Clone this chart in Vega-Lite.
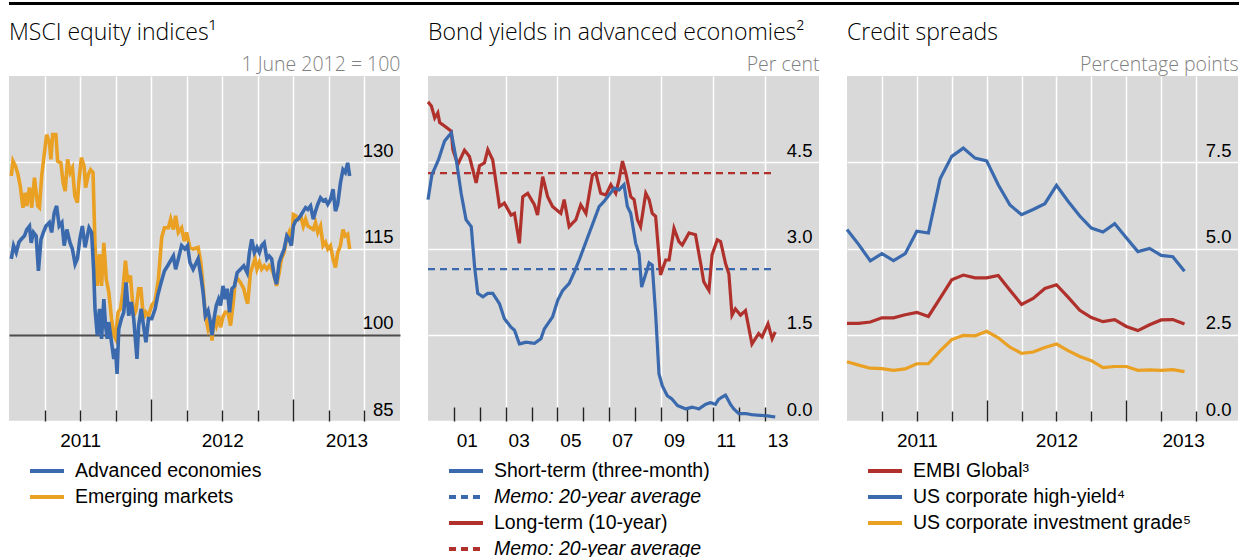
{
  "$schema": "https://vega.github.io/schema/vega-lite/v6.json",
  "padding": {"left": 4, "top": 0, "right": 0, "bottom": 0},
  "config": {
    "font": "Liberation Sans",
    "view": {"stroke": null},
    "title": {"font": "Open Sans", "fontSize": 23, "fontWeight": 300, "color": "black", "anchor": "start", "frame": "group", "baseline": "alphabetic", "offset": 9},
    "axis": {"labelFont": "Liberation Sans", "labelColor": "black", "titleFont": "Open Sans", "titleFontSize": 19.5, "titleFontWeight": 300, "titleColor": "#7f7f7f"},
    "legend": {"orient": "none", "legendX": 26, "legendY": 383, "direction": "vertical", "title": null, "symbolType": "M-1.7,0H1.7", "symbolSize": 400, "symbolStrokeWidth": 4, "labelFont": "Liberation Sans", "labelFontSize": 19.5, "labelColor": "black", "labelOffset": 16, "rowPadding": 4, "labelLimit": 400}
  },
  "datasets": {
    "equity": [
      {"t":2011.016,"s":"E","v":127.6},{"t":2011.028,"s":"E","v":130.2},{"t":2011.046,"s":"E","v":129.3},{"t":2011.063,"s":"E","v":127.9},{"t":2011.079,"s":"E","v":125.9},{"t":2011.098,"s":"E","v":122.1},{"t":2011.114,"s":"E","v":124.7},{"t":2011.125,"s":"E","v":122.4},{"t":2011.144,"s":"E","v":125.6},{"t":2011.160,"s":"E","v":122.1},{"t":2011.179,"s":"E","v":127.3},{"t":2011.202,"s":"E","v":122.4},{"t":2011.214,"s":"E","v":122.1},{"t":2011.230,"s":"E","v":127.6},{"t":2011.249,"s":"E","v":131.6},{"t":2011.265,"s":"E","v":134.8},{"t":2011.284,"s":"E","v":133.4},{"t":2011.295,"s":"E","v":130.5},{"t":2011.307,"s":"E","v":134.8},{"t":2011.330,"s":"E","v":134.8},{"t":2011.342,"s":"E","v":130.2},{"t":2011.365,"s":"E","v":129.9},{"t":2011.381,"s":"E","v":126.4},{"t":2011.395,"s":"E","v":125.0},{"t":2011.412,"s":"E","v":130.5},{"t":2011.430,"s":"E","v":128.2},{"t":2011.446,"s":"E","v":129.0},{"t":2011.463,"s":"E","v":124.1},{"t":2011.481,"s":"E","v":123.0},{"t":2011.493,"s":"E","v":127.0},{"t":2011.509,"s":"E","v":130.8},{"t":2011.528,"s":"E","v":129.3},{"t":2011.539,"s":"E","v":125.6},{"t":2011.558,"s":"E","v":127.9},{"t":2011.574,"s":"E","v":128.7},{"t":2011.591,"s":"E","v":128.2},{"t":2011.605,"s":"E","v":115.5},{"t":2011.621,"s":"E","v":108.5},{"t":2011.637,"s":"E","v":114.0},{"t":2011.651,"s":"E","v":108.5},{"t":2011.667,"s":"E","v":116.0},{"t":2011.684,"s":"E","v":109.7},{"t":2011.702,"s":"E","v":107.4},{"t":2011.721,"s":"E","v":102.8},{"t":2011.737,"s":"E","v":99.9},{"t":2011.749,"s":"E","v":99.3},{"t":2011.767,"s":"E","v":103.9},{"t":2011.784,"s":"E","v":104.5},{"t":2011.800,"s":"E","v":107.4},{"t":2011.819,"s":"E","v":112.9},{"t":2011.835,"s":"E","v":109.1},{"t":2011.854,"s":"E","v":110.3},{"t":2011.877,"s":"E","v":103.3},{"t":2011.893,"s":"E","v":104.2},{"t":2011.912,"s":"E","v":108.0},{"t":2011.928,"s":"E","v":108.0},{"t":2011.946,"s":"E","v":102.8},{"t":2011.963,"s":"E","v":103.9},{"t":2011.981,"s":"E","v":103.3},{"t":2012.004,"s":"E","v":105.1},{"t":2012.028,"s":"E","v":105.9},{"t":2012.051,"s":"E","v":109.7},{"t":2012.074,"s":"E","v":116.9},{"t":2012.093,"s":"E","v":118.6},{"t":2012.121,"s":"E","v":118.6},{"t":2012.137,"s":"E","v":120.1},{"t":2012.156,"s":"E","v":118.3},{"t":2012.172,"s":"E","v":120.7},{"t":2012.191,"s":"E","v":117.8},{"t":2012.214,"s":"E","v":118.6},{"t":2012.233,"s":"E","v":116.3},{"t":2012.249,"s":"E","v":117.8},{"t":2012.272,"s":"E","v":115.2},{"t":2012.295,"s":"E","v":114.9},{"t":2012.330,"s":"E","v":115.2},{"t":2012.349,"s":"E","v":112.6},{"t":2012.365,"s":"E","v":108.5},{"t":2012.381,"s":"E","v":103.3},{"t":2012.400,"s":"E","v":101.0},{"t":2012.416,"s":"E","v":102.2},{"t":2012.428,"s":"E","v":99.0},{"t":2012.442,"s":"E","v":102.8},{"t":2012.458,"s":"E","v":101.6},{"t":2012.474,"s":"E","v":103.3},{"t":2012.488,"s":"E","v":101.3},{"t":2012.505,"s":"E","v":103.1},{"t":2012.521,"s":"E","v":103.9},{"t":2012.540,"s":"E","v":103.9},{"t":2012.558,"s":"E","v":101.6},{"t":2012.575,"s":"E","v":105.1},{"t":2012.591,"s":"E","v":109.1},{"t":2012.609,"s":"E","v":109.7},{"t":2012.628,"s":"E","v":109.1},{"t":2012.651,"s":"E","v":108.0},{"t":2012.668,"s":"E","v":106.2},{"t":2012.679,"s":"E","v":105.4},{"t":2012.698,"s":"E","v":110.8},{"t":2012.714,"s":"E","v":112.0},{"t":2012.730,"s":"E","v":113.2},{"t":2012.744,"s":"E","v":111.4},{"t":2012.761,"s":"E","v":112.6},{"t":2012.777,"s":"E","v":111.4},{"t":2012.795,"s":"E","v":112.0},{"t":2012.814,"s":"E","v":111.4},{"t":2012.830,"s":"E","v":112.0},{"t":2012.847,"s":"E","v":111.4},{"t":2012.865,"s":"E","v":110.3},{"t":2012.882,"s":"E","v":108.5},{"t":2012.900,"s":"E","v":110.8},{"t":2012.916,"s":"E","v":113.2},{"t":2012.935,"s":"E","v":114.3},{"t":2012.954,"s":"E","v":116.9},{"t":2012.970,"s":"E","v":117.8},{"t":2012.986,"s":"E","v":115.5},{"t":2013.000,"s":"E","v":120.9},{"t":2013.016,"s":"E","v":120.7},{"t":2013.033,"s":"E","v":120.1},{"t":2013.051,"s":"E","v":120.7},{"t":2013.070,"s":"E","v":118.9},{"t":2013.086,"s":"E","v":120.1},{"t":2013.102,"s":"E","v":118.9},{"t":2013.121,"s":"E","v":118.6},{"t":2013.140,"s":"E","v":118.3},{"t":2013.156,"s":"E","v":119.5},{"t":2013.172,"s":"E","v":117.8},{"t":2013.191,"s":"E","v":118.9},{"t":2013.209,"s":"E","v":115.5},{"t":2013.226,"s":"E","v":116.1},{"t":2013.242,"s":"E","v":114.9},{"t":2013.261,"s":"E","v":115.5},{"t":2013.279,"s":"E","v":113.2},{"t":2013.296,"s":"E","v":111.7},{"t":2013.312,"s":"E","v":114.3},{"t":2013.331,"s":"E","v":115.5},{"t":2013.349,"s":"E","v":118.3},{"t":2013.365,"s":"E","v":117.2},{"t":2013.382,"s":"E","v":117.5},{"t":2013.396,"s":"E","v":114.9},
      {"t":2011.016,"s":"A","v":113.2},{"t":2011.032,"s":"A","v":115.5},{"t":2011.051,"s":"A","v":114.3},{"t":2011.070,"s":"A","v":116.1},{"t":2011.086,"s":"A","v":116.6},{"t":2011.109,"s":"A","v":117.2},{"t":2011.125,"s":"A","v":118.3},{"t":2011.144,"s":"A","v":118.9},{"t":2011.156,"s":"A","v":116.0},{"t":2011.172,"s":"A","v":117.8},{"t":2011.191,"s":"A","v":117.2},{"t":2011.207,"s":"A","v":111.1},{"t":2011.225,"s":"A","v":116.6},{"t":2011.242,"s":"A","v":117.8},{"t":2011.260,"s":"A","v":118.9},{"t":2011.284,"s":"A","v":119.5},{"t":2011.300,"s":"A","v":117.8},{"t":2011.318,"s":"A","v":121.2},{"t":2011.335,"s":"A","v":122.4},{"t":2011.353,"s":"A","v":118.9},{"t":2011.372,"s":"A","v":119.5},{"t":2011.388,"s":"A","v":115.5},{"t":2011.407,"s":"A","v":118.3},{"t":2011.428,"s":"A","v":116.1},{"t":2011.446,"s":"A","v":114.9},{"t":2011.465,"s":"A","v":112.3},{"t":2011.481,"s":"A","v":113.2},{"t":2011.498,"s":"A","v":116.6},{"t":2011.516,"s":"A","v":118.9},{"t":2011.535,"s":"A","v":115.2},{"t":2011.551,"s":"A","v":117.2},{"t":2011.563,"s":"A","v":118.6},{"t":2011.581,"s":"A","v":117.8},{"t":2011.595,"s":"A","v":111.4},{"t":2011.605,"s":"A","v":104.5},{"t":2011.621,"s":"A","v":99.9},{"t":2011.637,"s":"A","v":104.5},{"t":2011.651,"s":"A","v":99.3},{"t":2011.667,"s":"A","v":106.2},{"t":2011.679,"s":"A","v":101.6},{"t":2011.691,"s":"A","v":99.3},{"t":2011.702,"s":"A","v":102.2},{"t":2011.721,"s":"A","v":98.7},{"t":2011.737,"s":"A","v":95.8},{"t":2011.749,"s":"A","v":97.6},{"t":2011.760,"s":"A","v":93.2},{"t":2011.772,"s":"A","v":101.0},{"t":2011.791,"s":"A","v":102.8},{"t":2011.807,"s":"A","v":103.9},{"t":2011.823,"s":"A","v":109.1},{"t":2011.842,"s":"A","v":103.3},{"t":2011.860,"s":"A","v":105.7},{"t":2011.877,"s":"A","v":102.8},{"t":2011.900,"s":"A","v":95.8},{"t":2011.912,"s":"A","v":101.6},{"t":2011.930,"s":"A","v":104.5},{"t":2011.946,"s":"A","v":101.6},{"t":2011.963,"s":"A","v":98.7},{"t":2011.981,"s":"A","v":102.8},{"t":2012.004,"s":"A","v":102.8},{"t":2012.028,"s":"A","v":104.5},{"t":2012.046,"s":"A","v":106.8},{"t":2012.070,"s":"A","v":109.1},{"t":2012.093,"s":"A","v":111.1},{"t":2012.116,"s":"A","v":112.0},{"t":2012.137,"s":"A","v":112.9},{"t":2012.156,"s":"A","v":113.7},{"t":2012.172,"s":"A","v":111.4},{"t":2012.191,"s":"A","v":113.2},{"t":2012.214,"s":"A","v":115.5},{"t":2012.237,"s":"A","v":114.9},{"t":2012.256,"s":"A","v":115.5},{"t":2012.272,"s":"A","v":112.6},{"t":2012.295,"s":"A","v":111.4},{"t":2012.330,"s":"A","v":113.2},{"t":2012.349,"s":"A","v":110.3},{"t":2012.365,"s":"A","v":107.4},{"t":2012.381,"s":"A","v":103.3},{"t":2012.400,"s":"A","v":104.2},{"t":2012.416,"s":"A","v":102.2},{"t":2012.428,"s":"A","v":99.9},{"t":2012.442,"s":"A","v":102.8},{"t":2012.458,"s":"A","v":105.1},{"t":2012.474,"s":"A","v":106.2},{"t":2012.488,"s":"A","v":105.1},{"t":2012.505,"s":"A","v":108.5},{"t":2012.521,"s":"A","v":106.2},{"t":2012.535,"s":"A","v":108.0},{"t":2012.551,"s":"A","v":103.9},{"t":2012.568,"s":"A","v":108.0},{"t":2012.586,"s":"A","v":108.5},{"t":2012.605,"s":"A","v":110.8},{"t":2012.628,"s":"A","v":111.4},{"t":2012.651,"s":"A","v":112.0},{"t":2012.675,"s":"A","v":110.8},{"t":2012.691,"s":"A","v":114.3},{"t":2012.707,"s":"A","v":116.6},{"t":2012.726,"s":"A","v":114.3},{"t":2012.744,"s":"A","v":115.2},{"t":2012.761,"s":"A","v":114.3},{"t":2012.777,"s":"A","v":115.5},{"t":2012.795,"s":"A","v":116.0},{"t":2012.814,"s":"A","v":113.2},{"t":2012.830,"s":"A","v":113.7},{"t":2012.847,"s":"A","v":113.2},{"t":2012.865,"s":"A","v":110.3},{"t":2012.882,"s":"A","v":108.8},{"t":2012.900,"s":"A","v":112.6},{"t":2012.916,"s":"A","v":113.7},{"t":2012.935,"s":"A","v":114.9},{"t":2012.954,"s":"A","v":117.2},{"t":2012.970,"s":"A","v":116.6},{"t":2012.986,"s":"A","v":115.5},{"t":2013.000,"s":"A","v":118.9},{"t":2013.016,"s":"A","v":119.8},{"t":2013.033,"s":"A","v":120.1},{"t":2013.051,"s":"A","v":120.7},{"t":2013.070,"s":"A","v":121.5},{"t":2013.086,"s":"A","v":122.1},{"t":2013.102,"s":"A","v":121.8},{"t":2013.121,"s":"A","v":122.4},{"t":2013.140,"s":"A","v":120.1},{"t":2013.156,"s":"A","v":121.5},{"t":2013.172,"s":"A","v":122.7},{"t":2013.191,"s":"A","v":123.8},{"t":2013.209,"s":"A","v":123.3},{"t":2013.226,"s":"A","v":123.5},{"t":2013.242,"s":"A","v":122.7},{"t":2013.261,"s":"A","v":123.5},{"t":2013.279,"s":"A","v":125.3},{"t":2013.296,"s":"A","v":121.5},{"t":2013.312,"s":"A","v":122.7},{"t":2013.331,"s":"A","v":126.4},{"t":2013.349,"s":"A","v":128.7},{"t":2013.365,"s":"A","v":128.2},{"t":2013.382,"s":"A","v":129.9},{"t":2013.396,"s":"A","v":127.6}
    ],
    "bonds": [
      {"t":2000.0,"s":"ML","v":4.31},{"t":2013.41,"s":"ML","v":4.31},
      {"t":2000.0,"s":"MS","v":2.64},{"t":2013.41,"s":"MS","v":2.64},
      {"t":2000.00,"s":"L","v":5.55},{"t":2000.13,"s":"L","v":5.48},{"t":2000.26,"s":"L","v":5.27},{"t":2000.38,"s":"L","v":5.36},{"t":2000.45,"s":"L","v":5.19},{"t":2000.64,"s":"L","v":5.13},{"t":2000.90,"s":"L","v":5.04},{"t":2000.96,"s":"L","v":4.72},{"t":2001.15,"s":"L","v":4.46},{"t":2001.41,"s":"L","v":4.71},{"t":2001.60,"s":"L","v":4.60},{"t":2001.86,"s":"L","v":4.14},{"t":2001.99,"s":"L","v":4.44},{"t":2002.18,"s":"L","v":4.49},{"t":2002.31,"s":"L","v":4.72},{"t":2002.50,"s":"L","v":4.54},{"t":2002.76,"s":"L","v":3.73},{"t":2002.95,"s":"L","v":3.79},{"t":2003.21,"s":"L","v":3.58},{"t":2003.34,"s":"L","v":3.61},{"t":2003.53,"s":"L","v":3.09},{"t":2003.66,"s":"L","v":3.90},{"t":2003.85,"s":"L","v":3.96},{"t":2004.11,"s":"L","v":3.76},{"t":2004.23,"s":"L","v":3.58},{"t":2004.43,"s":"L","v":4.25},{"t":2004.62,"s":"L","v":3.90},{"t":2004.81,"s":"L","v":3.73},{"t":2005.13,"s":"L","v":3.61},{"t":2005.26,"s":"L","v":3.85},{"t":2005.45,"s":"L","v":3.38},{"t":2005.71,"s":"L","v":3.50},{"t":2005.90,"s":"L","v":3.76},{"t":2006.10,"s":"L","v":3.61},{"t":2006.35,"s":"L","v":4.28},{"t":2006.48,"s":"L","v":4.31},{"t":2006.67,"s":"L","v":3.96},{"t":2006.87,"s":"L","v":3.93},{"t":2007.06,"s":"L","v":4.11},{"t":2007.25,"s":"L","v":3.96},{"t":2007.38,"s":"L","v":4.20},{"t":2007.51,"s":"L","v":4.52},{"t":2007.64,"s":"L","v":4.31},{"t":2007.83,"s":"L","v":3.90},{"t":2007.96,"s":"L","v":3.85},{"t":2008.09,"s":"L","v":3.50},{"t":2008.21,"s":"L","v":3.38},{"t":2008.41,"s":"L","v":3.96},{"t":2008.54,"s":"L","v":3.85},{"t":2008.66,"s":"L","v":3.61},{"t":2008.79,"s":"L","v":3.56},{"t":2008.98,"s":"L","v":2.54},{"t":2009.18,"s":"L","v":2.80},{"t":2009.31,"s":"L","v":2.80},{"t":2009.50,"s":"L","v":3.35},{"t":2009.69,"s":"L","v":3.12},{"t":2009.82,"s":"L","v":3.06},{"t":2010.08,"s":"L","v":3.27},{"t":2010.33,"s":"L","v":3.24},{"t":2010.53,"s":"L","v":2.74},{"t":2010.65,"s":"L","v":2.42},{"t":2010.85,"s":"L","v":2.27},{"t":2010.97,"s":"L","v":2.89},{"t":2011.17,"s":"L","v":3.15},{"t":2011.30,"s":"L","v":3.12},{"t":2011.49,"s":"L","v":2.74},{"t":2011.62,"s":"L","v":2.56},{"t":2011.74,"s":"L","v":1.84},{"t":2011.87,"s":"L","v":1.95},{"t":2012.07,"s":"L","v":1.84},{"t":2012.26,"s":"L","v":1.92},{"t":2012.51,"s":"L","v":1.34},{"t":2012.77,"s":"L","v":1.52},{"t":2012.90,"s":"L","v":1.46},{"t":2013.13,"s":"L","v":1.69},{"t":2013.29,"s":"L","v":1.43},{"t":2013.41,"s":"L","v":1.55},
      {"t":2000.00,"s":"S","v":3.85},{"t":2000.15,"s":"S","v":4.28},{"t":2000.41,"s":"S","v":4.55},{"t":2000.64,"s":"S","v":4.87},{"t":2000.90,"s":"S","v":5.01},{"t":2001.09,"s":"S","v":4.55},{"t":2001.28,"s":"S","v":3.96},{"t":2001.47,"s":"S","v":3.50},{"t":2001.67,"s":"S","v":3.38},{"t":2001.80,"s":"S","v":2.68},{"t":2001.92,"s":"S","v":2.22},{"t":2002.12,"s":"S","v":2.16},{"t":2002.31,"s":"S","v":2.22},{"t":2002.50,"s":"S","v":2.22},{"t":2002.76,"s":"S","v":2.04},{"t":2002.95,"s":"S","v":1.78},{"t":2003.21,"s":"S","v":1.63},{"t":2003.34,"s":"S","v":1.58},{"t":2003.53,"s":"S","v":1.34},{"t":2003.79,"s":"S","v":1.37},{"t":2004.11,"s":"S","v":1.35},{"t":2004.36,"s":"S","v":1.43},{"t":2004.49,"s":"S","v":1.60},{"t":2004.81,"s":"S","v":1.81},{"t":2005.01,"s":"S","v":2.10},{"t":2005.20,"s":"S","v":2.27},{"t":2005.45,"s":"S","v":2.39},{"t":2005.65,"s":"S","v":2.59},{"t":2005.84,"s":"S","v":2.80},{"t":2006.03,"s":"S","v":3.03},{"t":2006.22,"s":"S","v":3.26},{"t":2006.42,"s":"S","v":3.50},{"t":2006.61,"s":"S","v":3.73},{"t":2006.80,"s":"S","v":3.82},{"t":2006.99,"s":"S","v":3.93},{"t":2007.19,"s":"S","v":4.05},{"t":2007.38,"s":"S","v":4.02},{"t":2007.57,"s":"S","v":4.11},{"t":2007.70,"s":"S","v":3.73},{"t":2007.83,"s":"S","v":3.61},{"t":2008.02,"s":"S","v":3.09},{"t":2008.15,"s":"S","v":2.91},{"t":2008.25,"s":"S","v":2.33},{"t":2008.41,"s":"S","v":2.56},{"t":2008.54,"s":"S","v":2.75},{"t":2008.66,"s":"S","v":2.71},{"t":2008.79,"s":"S","v":1.87},{"t":2008.92,"s":"S","v":0.82},{"t":2009.05,"s":"S","v":0.61},{"t":2009.24,"s":"S","v":0.44},{"t":2009.43,"s":"S","v":0.38},{"t":2009.63,"s":"S","v":0.27},{"t":2009.95,"s":"S","v":0.21},{"t":2010.20,"s":"S","v":0.24},{"t":2010.46,"s":"S","v":0.21},{"t":2010.72,"s":"S","v":0.29},{"t":2010.91,"s":"S","v":0.32},{"t":2011.10,"s":"S","v":0.29},{"t":2011.23,"s":"S","v":0.38},{"t":2011.49,"s":"S","v":0.45},{"t":2011.68,"s":"S","v":0.29},{"t":2011.81,"s":"S","v":0.21},{"t":2012.00,"s":"S","v":0.13},{"t":2012.26,"s":"S","v":0.13},{"t":2012.51,"s":"S","v":0.11},{"t":2012.77,"s":"S","v":0.10},{"t":2013.09,"s":"S","v":0.09},{"t":2013.41,"s":"S","v":0.07}
    ],
    "spreads": [
      {"t":2011.000,"s":"H","v":5.55},{"t":2011.083,"s":"H","v":5.12},{"t":2011.167,"s":"H","v":4.64},{"t":2011.250,"s":"H","v":4.85},{"t":2011.333,"s":"H","v":4.65},{"t":2011.417,"s":"H","v":4.85},{"t":2011.500,"s":"H","v":5.50},{"t":2011.583,"s":"H","v":5.45},{"t":2011.667,"s":"H","v":7.02},{"t":2011.750,"s":"H","v":7.67},{"t":2011.833,"s":"H","v":7.91},{"t":2011.917,"s":"H","v":7.62},{"t":2012.000,"s":"H","v":7.54},{"t":2012.083,"s":"H","v":6.85},{"t":2012.167,"s":"H","v":6.26},{"t":2012.250,"s":"H","v":5.98},{"t":2012.333,"s":"H","v":6.13},{"t":2012.417,"s":"H","v":6.30},{"t":2012.500,"s":"H","v":6.83},{"t":2012.583,"s":"H","v":6.37},{"t":2012.667,"s":"H","v":5.94},{"t":2012.750,"s":"H","v":5.59},{"t":2012.833,"s":"H","v":5.48},{"t":2012.917,"s":"H","v":5.72},{"t":2013.000,"s":"H","v":5.31},{"t":2013.083,"s":"H","v":4.91},{"t":2013.167,"s":"H","v":5.00},{"t":2013.250,"s":"H","v":4.80},{"t":2013.333,"s":"H","v":4.76},{"t":2013.417,"s":"H","v":4.34},
      {"t":2011.000,"s":"E","v":2.83},{"t":2011.083,"s":"E","v":2.83},{"t":2011.167,"s":"E","v":2.87},{"t":2011.250,"s":"E","v":2.99},{"t":2011.333,"s":"E","v":2.99},{"t":2011.417,"s":"E","v":3.08},{"t":2011.500,"s":"E","v":3.15},{"t":2011.583,"s":"E","v":3.03},{"t":2011.667,"s":"E","v":3.56},{"t":2011.750,"s":"E","v":4.09},{"t":2011.833,"s":"E","v":4.23},{"t":2011.917,"s":"E","v":4.15},{"t":2012.000,"s":"E","v":4.15},{"t":2012.083,"s":"E","v":4.22},{"t":2012.167,"s":"E","v":3.79},{"t":2012.250,"s":"E","v":3.38},{"t":2012.333,"s":"E","v":3.55},{"t":2012.417,"s":"E","v":3.84},{"t":2012.500,"s":"E","v":3.95},{"t":2012.583,"s":"E","v":3.59},{"t":2012.667,"s":"E","v":3.21},{"t":2012.750,"s":"E","v":3.00},{"t":2012.833,"s":"E","v":2.88},{"t":2012.917,"s":"E","v":2.94},{"t":2013.000,"s":"E","v":2.74},{"t":2013.083,"s":"E","v":2.62},{"t":2013.167,"s":"E","v":2.79},{"t":2013.250,"s":"E","v":2.93},{"t":2013.333,"s":"E","v":2.94},{"t":2013.417,"s":"E","v":2.81},
      {"t":2011.000,"s":"I","v":1.72},{"t":2011.083,"s":"I","v":1.62},{"t":2011.167,"s":"I","v":1.53},{"t":2011.250,"s":"I","v":1.52},{"t":2011.333,"s":"I","v":1.47},{"t":2011.417,"s":"I","v":1.51},{"t":2011.500,"s":"I","v":1.66},{"t":2011.583,"s":"I","v":1.66},{"t":2011.667,"s":"I","v":2.03},{"t":2011.750,"s":"I","v":2.36},{"t":2011.833,"s":"I","v":2.48},{"t":2011.917,"s":"I","v":2.47},{"t":2012.000,"s":"I","v":2.60},{"t":2012.083,"s":"I","v":2.41},{"t":2012.167,"s":"I","v":2.14},{"t":2012.250,"s":"I","v":1.96},{"t":2012.333,"s":"I","v":2.00},{"t":2012.417,"s":"I","v":2.13},{"t":2012.500,"s":"I","v":2.23},{"t":2012.583,"s":"I","v":2.04},{"t":2012.667,"s":"I","v":1.87},{"t":2012.750,"s":"I","v":1.75},{"t":2012.833,"s":"I","v":1.55},{"t":2012.917,"s":"I","v":1.58},{"t":2013.000,"s":"I","v":1.58},{"t":2013.083,"s":"I","v":1.47},{"t":2013.167,"s":"I","v":1.48},{"t":2013.250,"s":"I","v":1.47},{"t":2013.333,"s":"I","v":1.49},{"t":2013.417,"s":"I","v":1.43}
    ]
  },
  "spacing": 71,
  "bounds": "flush",
  "vconcat": [
    {
      "width": 1235,
      "height": 3,
      "view": {"fill": "black", "stroke": null},
      "data": {"values": [{}]},
      "mark": {"type": "point", "opacity": 0},
      "encoding": {}
    },
    {
      "spacing": 28,
      "bounds": "flush",
      "resolve": {"scale": {"color": "independent", "strokeDash": "independent"}, "legend": {"color": "independent", "strokeDash": "independent"}},
      "hconcat": [
        {
          "width": 391,
          "height": 345,
          "view": {"fill": "#d9d9d9", "stroke": null},
          "title": {"text": "MSCI equity indices¹"},
          "data": {"name": "equity"},
          "mark": {"type": "line", "strokeWidth": 3.6},
          "encoding": {
            "x": {
              "field": "t", "type": "quantitative",
              "scale": {"domain": [2011, 2013.75], "nice": false, "zero": false},
              "axis": {
                "title": null, "domain": false,
                "values": [2011.25, 2011.5, 2011.75, 2012, 2012.25, 2012.5, 2012.75, 2013, 2013.25, 2013.5],
                "grid": true, "gridColor": "white", "gridWidth": 1.5,
                "tickColor": "#222222", "tickWidth": 1.4,
                "tickSize": {"condition": {"test": "datum.value % 1 == 0", "value": -22}, "value": -11},
                "labelExpr": "datum.value % 1 == 0.5 ? toString(floor(datum.value)) : ''",
                "labelOffset": {"condition": {"test": "datum.value == 2013.5", "value": -18}, "value": 0},
                "labelPadding": 21, "labelFontSize": 19, "labelBaseline": "top",
                "labelOverlap": false, "labelFlush": false, "labelBound": false
              }
            },
            "y": {
              "field": "v", "type": "quantitative",
              "scale": {"domain": [85, 145], "nice": false, "zero": false},
              "axis": {
                "orient": "right", "values": [85, 100, 115, 130], "domain": false, "ticks": false,
                "grid": true,
                "gridColor": {"condition": {"test": "datum.value == 100", "value": "#4d4d4d"}, "value": "white"},
                "gridWidth": {"condition": {"test": "datum.value == 100", "value": 2}, "value": 1.5},
                "labelAlign": "right", "labelBaseline": "alphabetic", "labelPadding": -7, "labelOffset": -6, "labelFontSize": 18.5,
                "title": "1 June 2012 = 100", "titleAngle": 0, "titleAlign": "right", "titleBaseline": "alphabetic", "titleX": 0, "titleY": -6
              }
            },
            "color": {
              "field": "s", "type": "nominal",
              "scale": {"domain": ["A", "E"], "range": ["#3a6aad", "#e9a023"]},
              "legend": {"labelExpr": "datum.label == 'A' ? 'Advanced economies' : 'Emerging markets'"}
            }
          }
        },
        {
          "width": 391,
          "height": 345,
          "view": {"fill": "#d9d9d9", "stroke": null},
          "title": {"text": "Bond yields in advanced economies²"},
          "data": {"name": "bonds"},
          "encoding": {
            "x": {
              "field": "t", "type": "quantitative",
              "scale": {"domain": [2000, 2015.1], "nice": false, "zero": false},
              "axis": {
                "title": null, "domain": false,
                "values": [2001, 2001.5, 2002, 2003, 2003.5, 2004, 2005, 2005.5, 2006, 2007, 2007.5, 2008, 2009, 2009.5, 2010, 2011, 2011.5, 2012, 2013, 2013.5],
                "grid": true, "gridColor": "white", "gridWidth": 1.5,
                "gridOpacity": {"condition": {"test": "datum.value % 2 == 1 && datum.value >= 2003", "value": 1}, "value": 0},
                "tickColor": "#222222", "tickWidth": 1.4,
                "tickOpacity": {"condition": {"test": "datum.value % 1 == 0", "value": 1}, "value": 0},
                "tickSize": {"condition": {"test": "datum.value % 1 == 0", "value": -14}, "value": -11},
                "labelExpr": "datum.value % 2 == 1.5 ? substring(toString(floor(datum.value)), 2) : ''",
                "labelPadding": 21, "labelFontSize": 19, "labelBaseline": "top",
                "labelOverlap": false, "labelFlush": false, "labelBound": false
              }
            },
            "y": {
              "field": "v", "type": "quantitative",
              "scale": {"domain": [0, 6], "nice": false},
              "axis": {
                "orient": "right", "values": [0, 1.5, 3, 4.5], "format": ".1f", "domain": false, "ticks": false,
                "grid": true, "gridColor": "white", "gridWidth": 1.5,
                "labelAlign": "right", "labelBaseline": "alphabetic", "labelPadding": -7, "labelOffset": -6, "labelFontSize": 18.5,
                "title": "Per cent", "titleAngle": 0, "titleAlign": "right", "titleBaseline": "alphabetic", "titleX": 0, "titleY": -6
              }
            },
            "color": {
              "field": "s", "type": "nominal",
              "scale": {"domain": ["S", "MS", "L", "ML"], "range": ["#3a6aad", "#3a6aad", "#b0302c", "#b0302c"]},
              "legend": {
                "labelExpr": "datum.label == 'S' ? 'Short-term (three-month)' : datum.label == 'L' ? 'Long-term (10-year)' : '\u00a0Memo: 20-year average'",
                "encode": {"labels": {"update": {"fontStyle": {"signal": "datum.value == 'MS' || datum.value == 'ML' ? 'italic' : 'normal'"}}}}
              }
            },
            "strokeDash": {
              "field": "s", "type": "nominal",
              "scale": {"domain": ["S", "MS", "L", "ML"], "range": [[1, 0], [7, 5], [1, 0], [7, 5]]},
              "legend": {
                "labelExpr": "datum.label == 'S' ? 'Short-term (three-month)' : datum.label == 'L' ? 'Long-term (10-year)' : '\u00a0Memo: 20-year average'",
                "encode": {"labels": {"update": {"fontStyle": {"signal": "datum.value == 'MS' || datum.value == 'ML' ? 'italic' : 'normal'"}}}}
              }
            }
          },
          "layer": [
            {
              "transform": [{"filter": "datum.s == 'MS' || datum.s == 'ML'"}],
              "mark": {"type": "line", "strokeWidth": 2.3}
            },
            {
              "transform": [{"filter": "datum.s == 'S' || datum.s == 'L'"}],
              "mark": {"type": "line", "strokeWidth": 3.2}
            }
          ]
        },
        {
          "width": 391,
          "height": 345,
          "view": {"fill": "#d9d9d9", "stroke": null},
          "title": {"text": "Credit spreads"},
          "data": {"name": "spreads"},
          "mark": {"type": "line", "strokeWidth": 3.2},
          "encoding": {
            "x": {
              "field": "t", "type": "quantitative",
              "scale": {"domain": [2011, 2013.8], "nice": false, "zero": false},
              "axis": {
                "title": null, "domain": false,
                "values": [2011.25, 2011.5, 2011.75, 2012, 2012.25, 2012.5, 2012.75, 2013, 2013.25, 2013.5],
                "grid": true, "gridColor": "white", "gridWidth": 1.5,
                "tickColor": "#222222", "tickWidth": 1.4,
                "tickSize": {"condition": {"test": "datum.value % 1 == 0", "value": -21}, "value": -10},
                "labelExpr": "datum.value % 1 == 0.5 ? toString(floor(datum.value)) : ''",
                "labelOffset": {"condition": {"test": "datum.value == 2013.5", "value": -13}, "value": 0},
                "labelPadding": 20, "labelFontSize": 19, "labelBaseline": "top",
                "labelOverlap": false, "labelFlush": false, "labelBound": false
              }
            },
            "y": {
              "field": "v", "type": "quantitative",
              "scale": {"domain": [0, 10], "nice": false},
              "axis": {
                "orient": "right", "values": [0, 2.5, 5, 7.5], "format": ".1f", "domain": false, "ticks": false,
                "grid": true, "gridColor": "white", "gridWidth": 1.5,
                "labelAlign": "right", "labelBaseline": "alphabetic", "labelPadding": -7, "labelOffset": -6, "labelFontSize": 18.5,
                "title": "Percentage points", "titleAngle": 0, "titleAlign": "right", "titleBaseline": "alphabetic", "titleX": 0, "titleY": -6
              }
            },
            "color": {
              "field": "s", "type": "nominal",
              "scale": {"domain": ["E", "H", "I"], "range": ["#b0302c", "#3a6aad", "#e9a023"]},
              "legend": {"labelExpr": "datum.label == 'E' ? 'EMBI Global³' : datum.label == 'H' ? 'US corporate high-yield⁴' : 'US corporate investment grade⁵'"}
            }
          }
        }
      ]
    }
  ]
}
